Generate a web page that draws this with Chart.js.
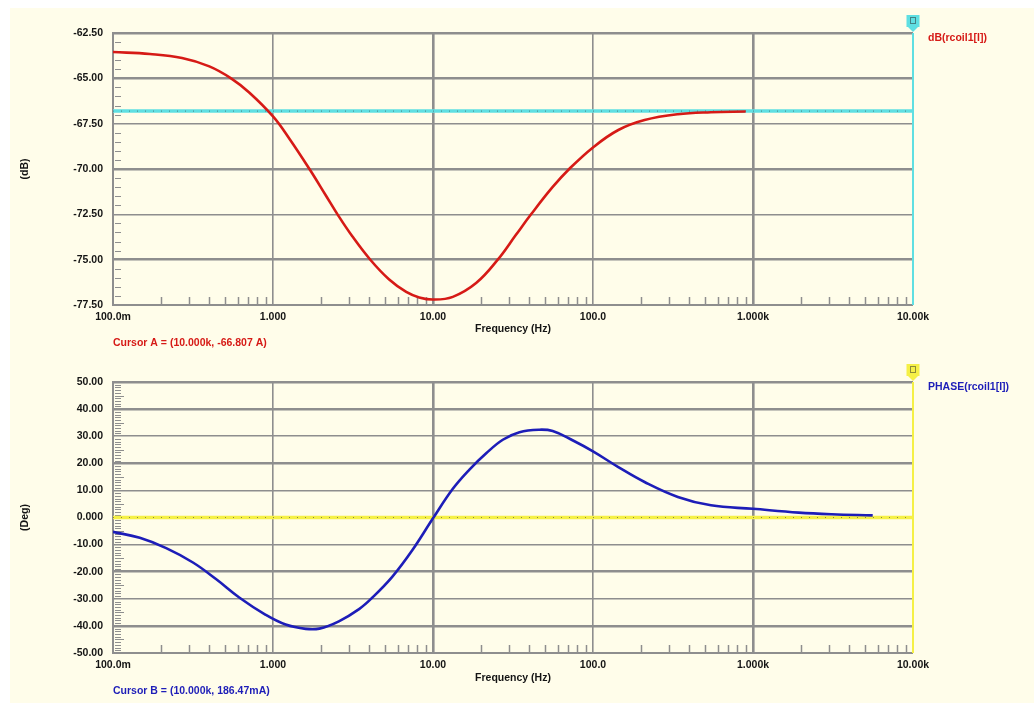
<!DOCTYPE html>
<html>
<head>
<meta charset="utf-8">
<script src="https://cdn.jsdelivr.net/npm/chart.js@4.4.1/dist/chart.umd.min.js"></script>
<style>
  html, body { margin: 0; padding: 0; background: #ffffff; overflow: hidden; }
  #panel { position: absolute; left: 10px; top: 8px; width: 1024px; height: 695px; background: #fffdea; }
  canvas { position: absolute; left: 0; }
  #magChart { top: 0; }
  #phaseChart { top: 352px; }
</style>
</head>
<body>
<div id="panel"></div>
<canvas id="magChart" width="1034" height="352"></canvas>
<canvas id="phaseChart" width="1034" height="351"></canvas>
<script>
// shared frequency axis (Hz)
const freqTicks = [0.1, 1, 10, 100, 1000, 10000];
const freqTickLabels = ['100.0m', '1.000', '10.00', '100.0', '1.000k', '10.00k'];

// dB(rcoil1[I]) trace
const magFreq = [0.1, 0.17, 0.27, 0.4, 0.547, 0.71, 1.0, 1.26, 1.69, 2.14, 2.53, 3.13, 4.07, 5.3, 6.8, 8.2, 10,
                 13.3, 18.6, 25.4, 33, 41, 56, 71, 100, 144, 210, 339, 546, 900];
const magDb = [-63.55, -63.66, -63.88, -64.34, -65.0, -65.78, -67.1, -68.3, -70.0, -71.46, -72.5, -73.71, -75.02, -76.08, -76.78, -77.08, -77.2,
               -77.05, -76.29, -75.0, -73.63, -72.5, -70.99, -70.0, -68.81, -67.85, -67.3, -66.98, -66.87, -66.83];
const dbTicks = [-77.5, -75, -72.5, -70, -67.5, -65, -62.5];
const dbTickLabels = ['-77.50', '-75.00', '-72.50', '-70.00', '-67.50', '-65.00', '-62.50'];

// PHASE(rcoil1[I]) trace
const phaseFreq = [0.1, 0.147, 0.215, 0.316, 0.44, 0.615, 0.9, 1.2, 1.6, 1.95, 2.58, 3.45, 4.17, 5.56, 7.4, 10,
                   13.3, 16.9, 21.5, 27.3, 34.7, 46.2, 56, 74.5, 100, 144, 210, 339, 546, 1000, 1930, 3100, 5600];
const phaseDeg = [-5.3, -7.5, -11.3, -16.6, -22.7, -29.5, -35.9, -39.5, -41.1, -41.0, -38.3, -33.8, -29.6, -21.9, -12.2, -0.3,
                  10.6, 17.7, 23.7, 28.7, 31.5, 32.4, 31.9, 28.5, 24.4, 18.6, 13.1, 7.6, 4.5, 3.2, 1.8, 1.2, 0.8];
const degTicks = [-50, -40, -30, -20, -10, 0, 10, 20, 30, 40, 50];
const degTickLabels = ['-50.00', '-40.00', '-30.00', '-20.00', '-10.00', '0.000', '10.00', '20.00', '30.00', '40.00', '50.00'];

// cursors
const cursorFreq = 10000;
const cursorALevel = -66.807;
const cursorBLevel = 0;

const FONT = "'Liberation Sans', Arial, sans-serif";
const GRID = '#8e8e8e';
const RED = '#d61a16';
const BLUE = '#1d1db8';
const CYAN = '#5fdfe2';
const YELLOW = '#f5f046';

Chart.defaults.font.family = FONT;
Chart.defaults.font.size = 10.5;
Chart.defaults.font.weight = 'bold';
Chart.defaults.color = '#141414';

const pts = (xs, ys) => xs.map((x, i) => ({ x, y: ys[i] }));

// minor tick marks drawn inside the plot on the bottom and left edges
const minorTicks = {
    id: 'minorTicks',
    beforeDatasetsDraw(chart, args, opts) {
        const { ctx, chartArea: a, scales: { x, y } } = chart;
        ctx.save();
        ctx.strokeStyle = GRID;
        ctx.lineWidth = 1.5;
        ctx.beginPath();
        opts.xMinor.forEach(v => {
            const px = Math.round(x.getPixelForValue(v)) + 0.5;
            ctx.moveTo(px, a.bottom);
            ctx.lineTo(px, a.bottom - 8);
        });
        ctx.stroke();
        ctx.lineWidth = 1.2;
        ctx.beginPath();
        opts.yMinor.forEach(v => {
            const py = Math.round(y.getPixelForValue(v)) + 0.5;
            const len = opts.longEvery && Math.abs(v % opts.longEvery) < 1e-6 ? 9 : 6;
            ctx.moveTo(a.left + 2, py);
            ctx.lineTo(a.left + 2 + len, py);
        });
        ctx.stroke();
        ctx.restore();
    }
};

// trace name, cursor readout and cursor flag
const traceLabels = {
    id: 'traceLabels',
    afterDraw(chart, args, o) {
        const { ctx, chartArea: a, scales: { x } } = chart;
        ctx.save();
        ctx.font = 'bold 10.5px ' + FONT;
        ctx.textBaseline = 'middle';
        ctx.textAlign = 'left';
        ctx.fillStyle = o.color;
        ctx.fillText(o.name, a.right + 15, a.top + 5);
        ctx.fillText(o.cursorText, a.left, a.bottom + 38);
        const cx = x.getPixelForValue(o.cursorAt);
        ctx.fillStyle = o.flag;
        ctx.fillRect(cx - 6.5, a.top - 18, 13, 12);
        ctx.beginPath();
        ctx.moveTo(cx - 5, a.top - 6);
        ctx.lineTo(cx + 5, a.top - 6);
        ctx.lineTo(cx, a.top - 1);
        ctx.fill();
        ctx.strokeStyle = 'rgba(40,40,40,0.5)';
        ctx.lineWidth = 1;
        ctx.strokeRect(cx - 2.5, a.top - 15.5, 5, 6);
        ctx.restore();
    }
};

function buildChart(id, cfg) {
    const yMin = cfg.yTicks[0];
    const yMax = cfg.yTicks[cfg.yTicks.length - 1];
    const xMinor = [];
    freqTicks.slice(0, -1).forEach(d => { for (let m = 2; m <= 9; m++) xMinor.push(d * m); });
    const yMinor = [];
    for (let v = yMin; v <= yMax + 1e-9; v += cfg.minorStep) {
        const r = Math.round(v * 1000) / 1000;
        if (!cfg.yTicks.some(t => Math.abs(t - r) < 1e-6)) yMinor.push(r);
    }

    return new Chart(document.getElementById(id), {
        type: 'line',
        data: {
            datasets: [{
                data: pts(cfg.xs, cfg.ys),
                borderColor: cfg.color,
                borderWidth: 2.6,
                pointRadius: 0,
                tension: 0.4
            }, {
                data: [{ x: freqTicks[0], y: cfg.cursorLevel }, { x: cursorFreq, y: cfg.cursorLevel }],
                borderColor: 'rgba(50,50,50,0.55)',
                borderWidth: 1,
                borderDash: [1, 7],
                pointRadius: 0
            }, {
                data: [{ x: freqTicks[0], y: cfg.cursorLevel }, { x: cursorFreq, y: cfg.cursorLevel }],
                borderColor: cfg.cursorColor,
                borderWidth: 3.5,
                pointRadius: 0
            }, {
                data: [{ x: cursorFreq, y: yMin }, { x: cursorFreq, y: yMax }],
                borderColor: cfg.cursorColor,
                borderWidth: 2,
                pointRadius: 0,
                clip: 8
            }]
        },
        options: {
            responsive: false,
            animation: false,
            layout: { padding: { left: 0, top: cfg.top, right: 121, bottom: 0 } },
            plugins: {
                legend: { display: false },
                tooltip: { enabled: false },
                minorTicks: { xMinor, yMinor, longEvery: cfg.longEvery },
                traceLabels: { name: cfg.name, cursorText: cfg.cursorText, color: cfg.color, flag: cfg.cursorColor, cursorAt: cursorFreq }
            },
            scales: {
                x: {
                    type: 'logarithmic',
                    min: freqTicks[0],
                    max: freqTicks[freqTicks.length - 1],
                    afterBuildTicks: s => { s.ticks = freqTicks.map(v => ({ value: v })); },
                    afterFit: s => { s.height = cfg.xHeight; },
                    ticks: {
                        autoSkip: false,
                        maxRotation: 0,
                        padding: 6,
                        callback: (v, i) => freqTickLabels[i]
                    },
                    grid: {
                        drawTicks: false,
                        color: GRID,
                        lineWidth: c => {
                            const v = c.tick ? c.tick.value : 0;
                            if (v <= freqTicks[0]) return 0;
                            return (v === 10 || v === 1000) ? 2.6 : 1.6;
                        }
                    },
                    border: { display: true, color: GRID, width: 2 },
                    title: {
                        display: true,
                        text: 'Frequency (Hz)',
                        font: { size: 10.5, lineHeight: 1.2, weight: 'bold' },
                        padding: { top: 0, bottom: cfg.titlePad }
                    }
                },
                y: {
                    min: yMin,
                    max: yMax,
                    afterBuildTicks: s => { s.ticks = cfg.yTicks.map(v => ({ value: v })); },
                    afterFit: s => { s.width = 113; },
                    ticks: {
                        padding: 10,
                        callback: (v, i) => cfg.yTickLabels[i]
                    },
                    grid: {
                        drawTicks: false,
                        color: GRID,
                        lineWidth: c => {
                            const v = c.tick ? c.tick.value : 0;
                            if (v === yMax) return 2.6;
                            return cfg.thick(v) ? 2.6 : 1.6;
                        }
                    },
                    border: { display: true, color: GRID, width: 2 },
                    title: {
                        display: true,
                        text: cfg.yTitle,
                        font: { size: 10.5, lineHeight: 1.2, weight: 'bold' },
                        padding: { top: 19, bottom: 0 }
                    }
                }
            }
        },
        plugins: [minorTicks, traceLabels]
    });
}

buildChart('magChart', {
    xs: magFreq, ys: magDb,
    yTicks: dbTicks, yTickLabels: dbTickLabels,
    minorStep: 0.5, longEvery: 0,
    thick: v => Math.round(v / 2.5) % 2 === 0,
    color: RED, cursorColor: CYAN, cursorLevel: cursorALevel,
    name: 'dB(rcoil1[I])',
    cursorText: 'Cursor A = (10.000k, -66.807 A)',
    yTitle: '(dB)',
    top: 33, xHeight: 47, titlePad: 17
});

buildChart('phaseChart', {
    xs: phaseFreq, ys: phaseDeg,
    yTicks: degTicks, yTickLabels: degTickLabels,
    minorStep: 1, longEvery: 5,
    thick: v => v % 20 === 0,
    color: BLUE, cursorColor: YELLOW, cursorLevel: cursorBLevel,
    name: 'PHASE(rcoil1[I])',
    cursorText: 'Cursor B = (10.000k, 186.47mA)',
    yTitle: '(Deg)',
    top: 30, xHeight: 50, titlePad: 19
});
</script>
</body>
</html>
